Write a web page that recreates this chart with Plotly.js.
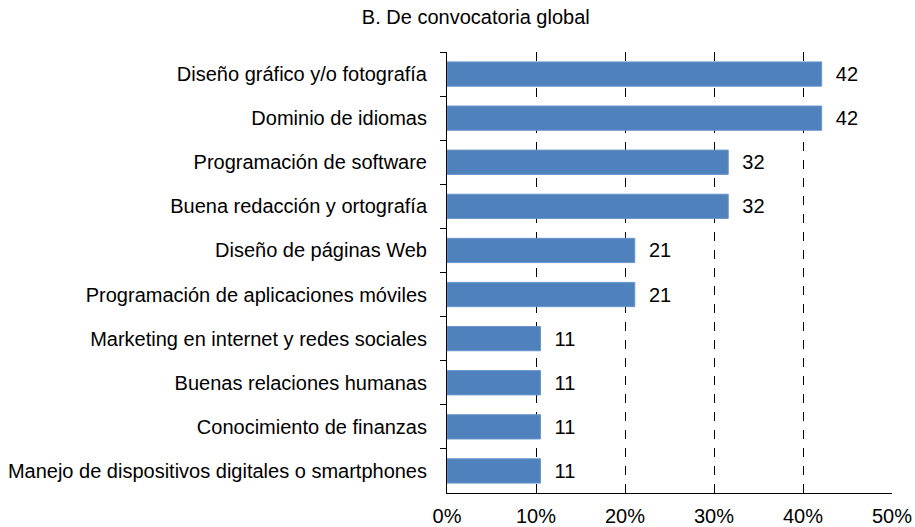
<!DOCTYPE html>
<html>
<head>
<meta charset="utf-8">
<script src="https://cdn.plot.ly/plotly-3.0.1.min.js"></script>
<style>html,body{margin:0;padding:0;background:#fff;}#chart{width:915px;height:527px;}</style>
</head>
<body>
<div id="chart"></div>
<script>
const categories = [
  "Diseño gráfico y/o fotografía",
  "Dominio de idiomas",
  "Programación de software",
  "Buena redacción y ortografía",
  "Diseño de páginas Web",
  "Programación de aplicaciones móviles",
  "Marketing en internet y redes sociales",
  "Buenas relaciones humanas",
  "Conocimiento de finanzas",
  "Manejo de dispositivos digitales o smartphones"
];
const values = [42.1, 42.1, 31.6, 31.6, 21.1, 21.1, 10.5, 10.5, 10.5, 10.5];
const valueLabels = ["42", "42", "32", "32", "21", "21", "11", "11", "11", "11"];
const xTicks = [0, 10, 20, 30, 40, 50];
const titleText = "B. De convocatoria global";

const font = {family: "Liberation Sans, Arial, sans-serif", size: 20, color: "#000"};

const trace = {
  type: "bar",
  orientation: "h",
  y: categories,
  x: values,
  text: valueLabels.map(t => "\u00a0\u00a0" + t),
  textposition: "outside",
  textfont: font,
  cliponaxis: false,
  marker: {color: "#4f81bd", line: {color: "#6a95cc", width: 1}},
  hoverinfo: "none"
};

const layout = {
  width: 915, height: 527,
  margin: {l: 447, r: 23, t: 52, b: 34},
  paper_bgcolor: "#fff", plot_bgcolor: "#fff",
  font: font,
  showlegend: false,
  bargap: 0.45,
  title: {text: titleText, font: {family: font.family, size: 20, color: "#000"}, x: 0.52, xref: "container", xanchor: "center", y: 0.968, yref: "container", yanchor: "middle"},
  xaxis: {
    range: [0, 50], tickvals: xTicks, ticktext: xTicks.map(v => v + "%"),
    showgrid: true, gridcolor: "#000", griddash: "dash", gridwidth: 1,
    showline: true, linecolor: "#000", linewidth: 1,
    zeroline: false, ticks: "", tickfont: font, fixedrange: true,
    ticklabelstandoff: 5
  },
  yaxis: {
    autorange: "reversed", type: "category",
    showline: true, linecolor: "#000", linewidth: 1,
    ticks: "outside", ticklen: 6, tickcolor: "#000", tickson: "boundaries",
    ticklabelstandoff: 15,
    showgrid: false, zeroline: false, tickfont: font, fixedrange: true
  }
};

Plotly.newPlot("chart", [trace], layout, {staticPlot: true});
</script>
</body>
</html>
